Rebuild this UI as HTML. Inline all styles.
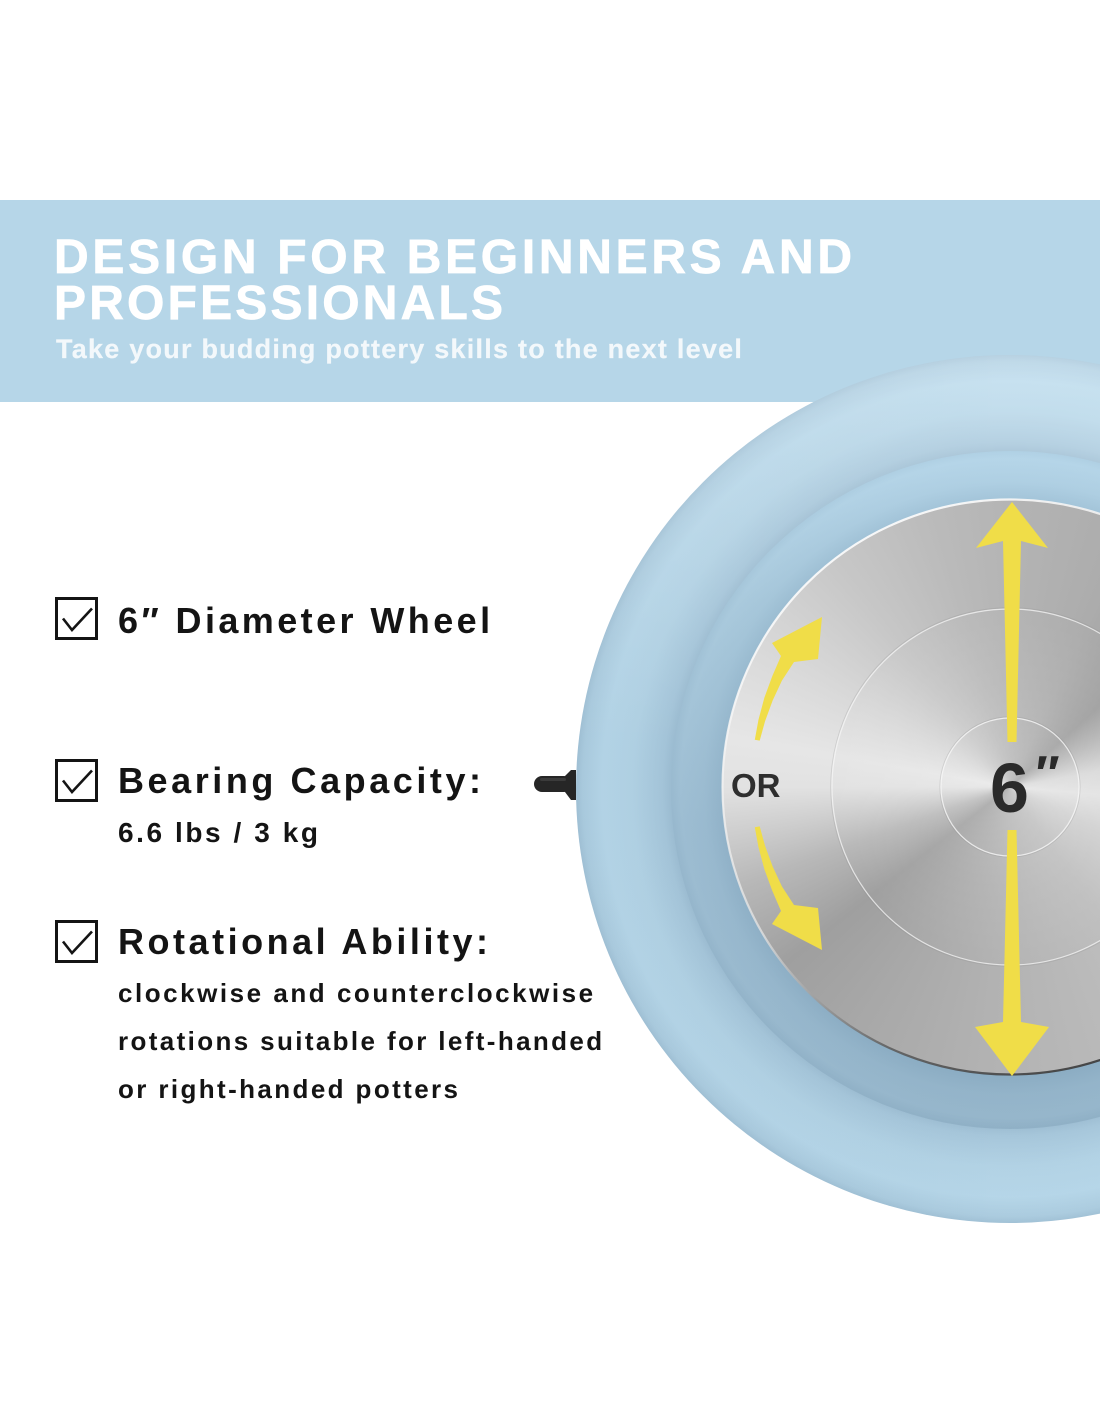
<!DOCTYPE html>
<html>
<head>
<meta charset="utf-8">
<style>
html,body{margin:0;padding:0;}
body{width:1100px;height:1422px;position:relative;overflow:hidden;background:#ffffff;font-family:"Liberation Sans",Arial,sans-serif;}
.abs{position:absolute;white-space:nowrap;}
.band{position:absolute;left:0;top:200px;width:1100px;height:202px;background:#b6d6e8;}
.h1{font-weight:bold;font-size:48px;line-height:48px;color:#ffffff;letter-spacing:3.6px;-webkit-text-stroke:0.7px #ffffff;}
.sub{font-weight:bold;font-size:27px;line-height:27px;color:#f3f8fb;letter-spacing:1.2px;-webkit-text-stroke:0.2px #f3f8fb;}
.t{font-weight:bold;font-size:36px;line-height:36px;color:#141414;letter-spacing:3.3px;}
.s{font-weight:bold;font-size:26px;line-height:26px;color:#141414;letter-spacing:2.4px;}
.box{position:absolute;left:55px;width:37px;height:37px;border:3px solid #141414;background:#fff;}
.box svg{position:absolute;left:-3px;top:-3px;}
.silver{position:absolute;left:722px;top:499px;width:576px;height:576px;border-radius:50%;
background:
radial-gradient(circle at 50% 50%, rgba(255,255,255,0.22) 0, rgba(255,255,255,0.08) 25%, rgba(255,255,255,0) 45%),
conic-gradient(from 0deg at 50% 50%, #b4b4b4 0deg, #acacac 25deg, #9e9e9e 48deg, #b6b6b6 62deg, #d8d8d8 80deg, #e2e2e2 95deg, #d0d0d0 115deg, #bebebe 145deg, #b2b2b2 185deg, #a8a8a8 212deg, #9f9f9f 232deg, #b8b8b8 250deg, #e2e2e2 270deg, #e6e6e6 280deg, #d8d8d8 300deg, #c7c7c7 322deg, #bababa 345deg, #b4b4b4 360deg);}
</style>
</head>
<body>

<div class="band"></div>

<div class="abs h1" id="h1a" style="left:54px;top:234px;">DESIGN FOR BEGINNERS AND</div>
<div class="abs h1" id="h1b" style="left:54px;top:280px;">PROFESSIONALS</div>
<div class="abs sub" id="sub" style="left:56px;top:336px;">Take your budding pottery skills to the next level</div>

<!-- Ring -->
<svg class="abs" style="left:0;top:0;" width="1100" height="1422" viewBox="0 0 1100 1422">
<defs>
<radialGradient id="lipG" gradientUnits="userSpaceOnUse" cx="1010" cy="789" r="434">
<stop offset="0.775" stop-color="#9ebed3"/>
<stop offset="0.80" stop-color="#a9c9dd"/>
<stop offset="0.87" stop-color="#b6d6e8"/>
<stop offset="0.94" stop-color="#badaec"/>
<stop offset="0.985" stop-color="#b0d0e3"/>
<stop offset="1" stop-color="#a6c6da"/>
</radialGradient>
<linearGradient id="lightG" gradientUnits="userSpaceOnUse" x1="0" y1="355" x2="0" y2="1223">
<stop offset="0" stop-color="#ffffff" stop-opacity="0.2"/>
<stop offset="0.45" stop-color="#ffffff" stop-opacity="0"/>
<stop offset="1" stop-color="#0a3050" stop-opacity="0.03"/>
</linearGradient>
<linearGradient id="leftG" gradientUnits="userSpaceOnUse" x1="576" y1="0" x2="1010" y2="0">
<stop offset="0" stop-color="#103a5a" stop-opacity="0.05"/>
<stop offset="1" stop-color="#103a5a" stop-opacity="0"/>
</linearGradient>
<linearGradient id="basinG" gradientUnits="userSpaceOnUse" x1="0" y1="451" x2="0" y2="1129">
<stop offset="0" stop-color="#b6d6e9"/>
<stop offset="0.22" stop-color="#aacadd"/>
<stop offset="0.55" stop-color="#9dbdd2"/>
<stop offset="1" stop-color="#96b6cb"/>
</linearGradient>
<radialGradient id="basinShade" gradientUnits="userSpaceOnUse" cx="1010" cy="788" r="340">
<stop offset="0.84" stop-color="#3d6585" stop-opacity="0.14"/>
<stop offset="0.9" stop-color="#3d6585" stop-opacity="0.04"/>
<stop offset="0.97" stop-color="#3d6585" stop-opacity="0"/>
<stop offset="1" stop-color="#3d6585" stop-opacity="0.07"/>
</radialGradient>
</defs>
<circle cx="1010" cy="789" r="434" fill="url(#lipG)"/>
<circle cx="1010" cy="789" r="434" fill="url(#lightG)"/>
<circle cx="1010" cy="789" r="434" fill="url(#leftG)"/>
<circle cx="1010" cy="790" r="339" fill="url(#basinG)"/>
<circle cx="1010" cy="790" r="339" fill="url(#basinShade)"/>
<!-- knob -->
<rect x="534" y="776" width="38" height="16" rx="8" ry="8" fill="#262626"/>
<polygon points="565,776 571,770 576,770 576,800 571,800 565,792" fill="#262626"/>
<rect x="540" y="778" width="26" height="3" rx="1.5" fill="#4a4a4a" opacity="0.6"/>
</svg>

<div class="silver"></div>

<!-- Overlay on disc -->
<svg class="abs" style="left:0;top:0;" width="1100" height="1422" viewBox="0 0 1100 1422">
<defs>
<linearGradient id="rimG" gradientUnits="userSpaceOnUse" x1="800" y1="520" x2="1100" y2="1080">
<stop offset="0" stop-color="#ffffff" stop-opacity="0.95"/>
<stop offset="0.55" stop-color="#e8e8e8" stop-opacity="0.7"/>
<stop offset="0.8" stop-color="#555555" stop-opacity="0.8"/>
<stop offset="1" stop-color="#333333" stop-opacity="0.9"/>
</linearGradient>
</defs>
<circle cx="1010" cy="787" r="178" fill="none" stroke="#f6f6f6" stroke-opacity="0.75" stroke-width="1.2"/>
<circle cx="1010" cy="787" r="179.3" fill="none" stroke="#8a8a8a" stroke-opacity="0.25" stroke-width="0.8"/>
<circle cx="1010" cy="787" r="69" fill="none" stroke="#f6f6f6" stroke-opacity="0.8" stroke-width="1.2"/>
<circle cx="1010" cy="787" r="70.2" fill="none" stroke="#8a8a8a" stroke-opacity="0.25" stroke-width="0.8"/>
<circle cx="1010" cy="787" r="287.5" fill="none" stroke="url(#rimG)" stroke-width="2.2"/>

<!-- vertical arrows -->
<polygon fill="#f0dd48" points="1012,502 1048,548 1021,541 1016.5,742 1007.5,742 1003,541 976,548"/>
<polygon fill="#f0dd48" points="1007.5,830 1016.5,830 1021,1022 1049,1027 1012,1076 975,1027 1003,1022"/>

<!-- curved arrows -->
<polygon fill="#f0dd48" points="754.8,739.7 758.5,719.6 764.4,697.6 772.3,676.1 781,656 772,643 822,617 818,659 794,662 781.9,680.6 772.6,700.6 765,721.4 759.7,740.6"/>
<g transform="matrix(1 0 0 -1 0 1567)">
<polygon fill="#f0dd48" points="754.8,739.7 758.5,719.6 764.4,697.6 772.3,676.1 781,656 772,643 822,617 818,659 794,662 781.9,680.6 772.6,700.6 765,721.4 759.7,740.6"/>
</g>

<text x="731" y="797" font-family="Liberation Sans, Arial, sans-serif" font-weight="bold" font-size="33" fill="#2e2e2e">OR</text>
<text x="990" y="812" font-family="Liberation Sans, Arial, sans-serif" font-weight="bold" font-size="70" fill="#2a2a2a">6</text>
<text x="1033" y="791" font-family="Liberation Sans, DejaVu Sans, sans-serif" font-weight="bold" font-style="italic" font-size="50" fill="#2a2a2a">″</text>
</svg>

<!-- List -->
<div class="box" style="top:597px;"><svg width="43" height="43" viewBox="0 0 43 43"><polyline points="8,21.5 17,33 37,11.5" fill="none" stroke="#141414" stroke-width="2.6" stroke-linejoin="miter"/></svg></div>
<div class="abs t" id="t1" style="left:118px;top:603px;">6″ Diameter Wheel</div>

<div class="box" style="top:759px;"><svg width="43" height="43" viewBox="0 0 43 43"><polyline points="8,21.5 17,33 37,11.5" fill="none" stroke="#141414" stroke-width="2.6" stroke-linejoin="miter"/></svg></div>
<div class="abs t" id="t2" style="left:118px;top:763px;">Bearing Capacity:</div>
<div class="abs s" id="t2s" style="left:118px;top:819px;font-size:28px;line-height:28px;">6.6 lbs / 3 kg</div>

<div class="box" style="top:920px;"><svg width="43" height="43" viewBox="0 0 43 43"><polyline points="8,21.5 17,33 37,11.5" fill="none" stroke="#141414" stroke-width="2.6" stroke-linejoin="miter"/></svg></div>
<div class="abs t" id="t3" style="left:118px;top:924px;">Rotational Ability:</div>
<div class="abs s" id="l1" style="left:118px;top:980px;">clockwise and counterclockwise</div>
<div class="abs s" id="l2" style="left:118px;top:1028px;">rotations suitable for left-handed</div>
<div class="abs s" id="l3" style="left:118px;top:1076px;">or right-handed potters</div>

<script>
(function(){
  var T={h1a:798,h1b:449,sub:686,t1:372,t2:363,t2s:200,t3:370,l1:475,l2:484,l3:340};
  for(var id in T){
    var e=document.getElementById(id);
    if(!e) continue;
    e.style.letterSpacing='0px';
    var w=e.getBoundingClientRect().width;
    var n=e.textContent.length;
    if(n<2||!w) continue;
    var ls=(T[id]-w)/(n-1);
    if(ls>-2&&ls<10) e.style.letterSpacing=ls.toFixed(2)+'px';
  }
})();
</script>
</body>
</html>
